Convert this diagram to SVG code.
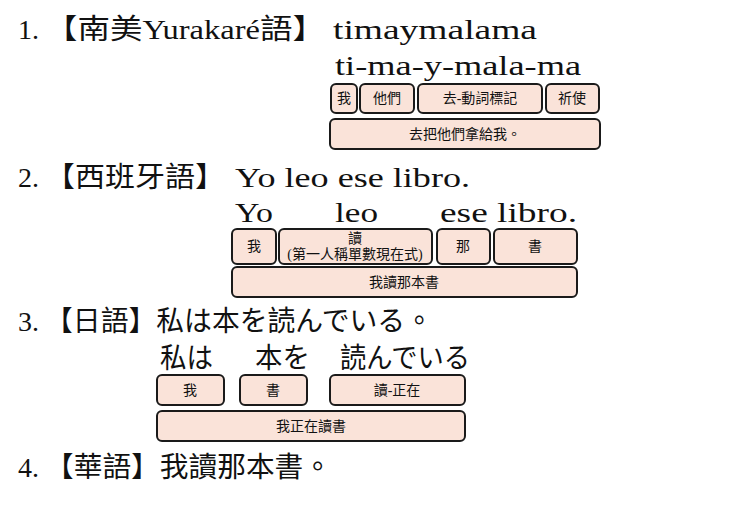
<svg xmlns="http://www.w3.org/2000/svg" width="740" height="510" viewBox="0 0 740 510">
<style>
.t{font-family:"Liberation Serif","Noto Sans CJK TC",serif;font-size:28px;fill:#111}
.b rect{fill:#fae3d9;stroke:#1a1a1a;stroke-width:2}
.b text{font-family:"Liberation Serif","Noto Sans CJK TC",serif;font-size:14px;fill:#111;text-anchor:middle}
</style>
<rect width="740" height="510" fill="#fff"/>
<text class="t" x="18" y="39">1.</text>
<text class="t" x="45" y="39" textLength="280" lengthAdjust="spacingAndGlyphs">【南美Yurakaré語】</text>
<text class="t" x="333" y="39" textLength="204" lengthAdjust="spacingAndGlyphs">timaymalama</text>
<text class="t" x="335" y="75" textLength="246" lengthAdjust="spacingAndGlyphs">ti-ma-y-mala-ma</text>
<g id="r1" class="b">
<g id="n1a"><rect x="331" y="84" width="26" height="29" rx="5"/><text x="344" y="103">我</text></g>
<g id="n1b"><rect x="360" y="84" width="54" height="29" rx="5"/><text x="387" y="103">他們</text></g>
<g id="n1c"><rect x="418" y="84" width="124" height="29" rx="5"/><text x="480" y="103">去-動詞標記</text></g>
<g id="n1d"><rect x="546" y="84" width="53" height="29" rx="5"/><text x="572" y="103">祈使</text></g>
<g id="n1e"><rect x="330" y="119" width="270" height="30" rx="5"/><text x="465" y="139">去把他們拿給我。</text></g>
</g>
<text class="t" x="18" y="187">2.</text>
<text class="t" x="45" y="187" textLength="180" lengthAdjust="spacingAndGlyphs">【西班牙語】</text>
<text class="t" x="235" y="187" textLength="235" lengthAdjust="spacingAndGlyphs">Yo leo ese libro.</text>
<text class="t" x="235" y="222" textLength="38" lengthAdjust="spacingAndGlyphs">Yo</text>
<text class="t" x="335" y="222" textLength="43" lengthAdjust="spacingAndGlyphs">leo</text>
<text class="t" x="440" y="222" textLength="137" lengthAdjust="spacingAndGlyphs">ese libro.</text>
<g id="r2" class="b">
<g id="n2a"><rect x="232" y="229" width="44" height="35" rx="5"/><text x="254" y="251">我</text></g>
<g id="n2b"><rect x="279" y="229" width="153" height="35" rx="5"/><text x="355" y="243">讀</text><text x="355" y="259">(第一人稱單數現在式)</text></g>
<g id="n2c"><rect x="437" y="229" width="53" height="35" rx="5"/><text x="463" y="251">那</text></g>
<g id="n2d"><rect x="494" y="229" width="83" height="35" rx="5"/><text x="535" y="251">書</text></g>
<g id="n2e"><rect x="232" y="267" width="345" height="30" rx="5"/><text x="404" y="287">我讀那本書</text></g>
</g>
<text class="t" x="18" y="331">3.</text>
<text class="t" x="45" y="331" textLength="388" lengthAdjust="spacingAndGlyphs">【日語】私は本を読んでいる。</text>
<text class="t" x="160" y="368" textLength="53" lengthAdjust="spacingAndGlyphs">私は</text>
<text class="t" x="255" y="368" textLength="55" lengthAdjust="spacingAndGlyphs">本を</text>
<text class="t" x="340" y="368" textLength="130" lengthAdjust="spacingAndGlyphs">読んでいる</text>
<g id="r3" class="b">
<g id="n3a"><rect x="157" y="375" width="67" height="30" rx="5"/><text x="190" y="395">我</text></g>
<g id="n3b"><rect x="240" y="375" width="67" height="30" rx="5"/><text x="273" y="395">書</text></g>
<g id="n3c"><rect x="330" y="375" width="135" height="30" rx="5"/><text x="397" y="395">讀-正在</text></g>
<g id="n3d"><rect x="157" y="411" width="308" height="30" rx="5"/><text x="311" y="431">我正在讀書</text></g>
</g>
<text class="t" x="18" y="477">4.</text>
<text class="t" x="45" y="477" textLength="287" lengthAdjust="spacingAndGlyphs">【華語】我讀那本書。</text>
</svg>
